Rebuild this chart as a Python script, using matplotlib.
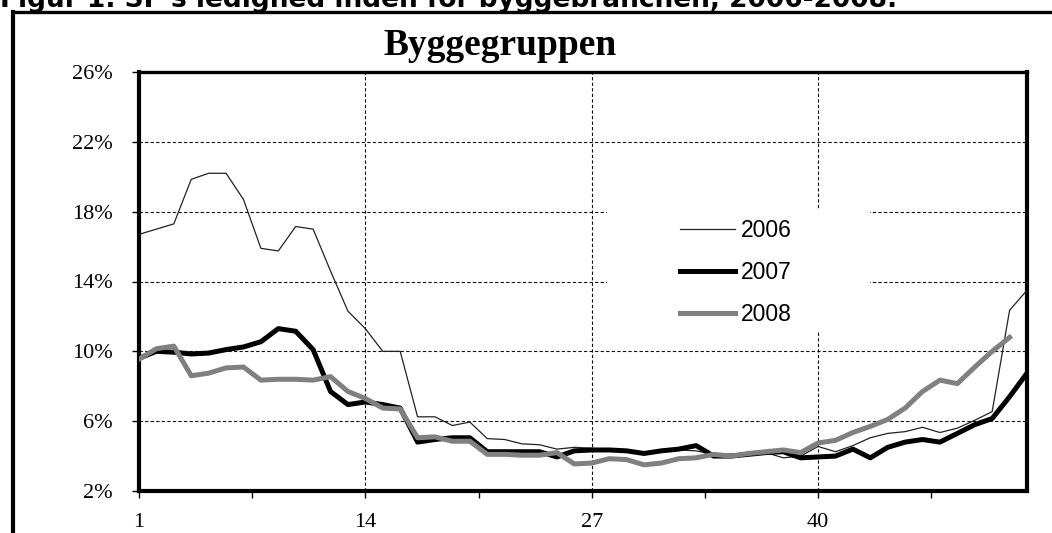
import numpy as np
import matplotlib
matplotlib.use("Agg")
import matplotlib.pyplot as plt
from matplotlib.patches import Rectangle
from matplotlib.lines import Line2D
from matplotlib.ticker import FuncFormatter, FixedLocator

# ledighed i procent, uge 1-52
weeks = np.arange(1, 53)
y2006 = [16.7, 17.0, 17.3, 19.85, 20.2, 20.2, 18.7, 15.9, 15.75, 17.15,
         17.0, 14.6, 12.3, 11.3, 10.0, 10.0, 6.25, 6.25, 5.75, 5.95,
         5.0, 4.95, 4.7, 4.65, 4.4, 4.5, 4.45, 4.35, 4.3, 4.2,
         4.3, 4.35, 4.3, 4.1, 4.1, 4.1, 4.2, 3.9, 4.0, 4.55,
         4.25, 4.6, 5.05, 5.3, 5.4, 5.65, 5.35, 5.6, 6.05, 6.55,
         12.35, 13.5]
y2007 = [9.6, 10.0, 9.95, 9.85, 9.9, 10.1, 10.25, 10.55, 11.3, 11.15,
         10.1, 7.7, 6.95, 7.1, 6.95, 6.75, 4.8, 4.95, 5.05, 5.05,
         4.25, 4.25, 4.25, 4.25, 3.95, 4.3, 4.35, 4.35, 4.3, 4.15,
         4.3, 4.4, 4.6, 4.0, 4.0, 4.1, 4.2, 4.25, 3.9, 3.95,
         4.0, 4.4, 3.9, 4.5, 4.8, 4.95, 4.8, 5.3, 5.8, 6.15,
         7.4, 8.75]
y2008 = [9.55, 10.15, 10.3, 8.6, 8.75, 9.05, 9.1, 8.35, 8.4, 8.4,
         8.35, 8.55, 7.7, 7.3, 6.75, 6.7, 5.05, 5.1, 4.85, 4.85,
         4.1, 4.1, 4.05, 4.05, 4.2, 3.55, 3.6, 3.85, 3.8, 3.5,
         3.6, 3.85, 3.9, 4.1, 4.0, 4.15, 4.25, 4.35, 4.2, 4.75,
         4.9, 5.35, 5.7, 6.1, 6.75, 7.7, 8.35, 8.15, 9.1, 10.0,
         10.8]
xticks = [1, 14, 27, 40]
yticks = [2, 6, 10, 14, 18, 22, 26]

W, H = 1052, 533
fig = plt.figure(figsize=(W / 100, H / 100), dpi=100)
ax = fig.add_axes([139 / W, 1 - 491 / H, (1027 - 139) / W, (491 - 72) / H])
ax.set_axisbelow(True)

ax.plot(weeks, y2006, color="#222222", lw=0.9, label="2006", zorder=3)
ax.plot(weeks, y2007, color="black", lw=3.6, label="2007", zorder=4,
        solid_joinstyle="round")
ax.plot(weeks[:len(y2008)], y2008, color="#808080", lw=3.6, label="2008",
        zorder=5, solid_joinstyle="round")

ax.set_xlim(1, 52)
ax.set_ylim(2, 26)
ax.set_xticks(xticks)
ax.xaxis.set_minor_locator(FixedLocator([7.5, 20.5, 33.5, 46.5]))
ax.set_yticks(yticks)
ax.yaxis.set_major_formatter(FuncFormatter(lambda v, p: f"{v:.0f}%"))

ax.grid(True, which="major", color="#111111", lw=0.8, linestyle=(0, (3, 2)))
ax.tick_params(which="both", direction="out", length=5, width=1, color="black")
ax.tick_params(axis="y", pad=14)
ax.tick_params(axis="x", pad=11)
for lab in ax.get_xticklabels() + ax.get_yticklabels():
    lab.set_fontfamily("Liberation Serif")
    lab.set_fontsize(16)

for s in ax.spines.values():
    s.set_linewidth(3)
    s.set_color("black")
ax.spines["top"].set_linewidth(2.4)

# hvid boks bag legenden
ax.add_patch(Rectangle((607 / W, 1 - 332 / H), 263 / W, 122 / H,
                       transform=fig.transFigure, facecolor="white",
                       edgecolor="none", zorder=1))
ax.legend(loc="upper left", bbox_to_anchor=(680 / W, 1 - 219 / H),
          bbox_transform=fig.transFigure, frameon=False, borderpad=0,
          borderaxespad=0, handlelength=2.4, handletextpad=0.25,
          labelspacing=0.82, prop={"family": "Liberation Sans", "size": 16.5})

fig.text(500 / W, 1 - 55 / H, "Byggegruppen", ha="center", va="baseline",
         family="Liberation Serif", weight="bold", fontsize=27)

# overskrift, delvist skåret af i toppen som i originalen
fig.text(0, 1 - 7 / H, "Figur 1. SP's ledighed inden for byggebranchen, 2006-2008.",
         ha="left", va="baseline", family="DejaVu Sans", weight="bold",
         fontsize=19)

# ydre ramme
fig.add_artist(Line2D([13 / W, 1.0], [1 - 12 / H, 1 - 12 / H],
                      transform=fig.transFigure, color="black", lw=2.4))
fig.add_artist(Line2D([13 / W, 13 / W], [1 - 12 / H, 0],
                      transform=fig.transFigure, color="black", lw=3))

fig.savefig("out.png", dpi=100)
